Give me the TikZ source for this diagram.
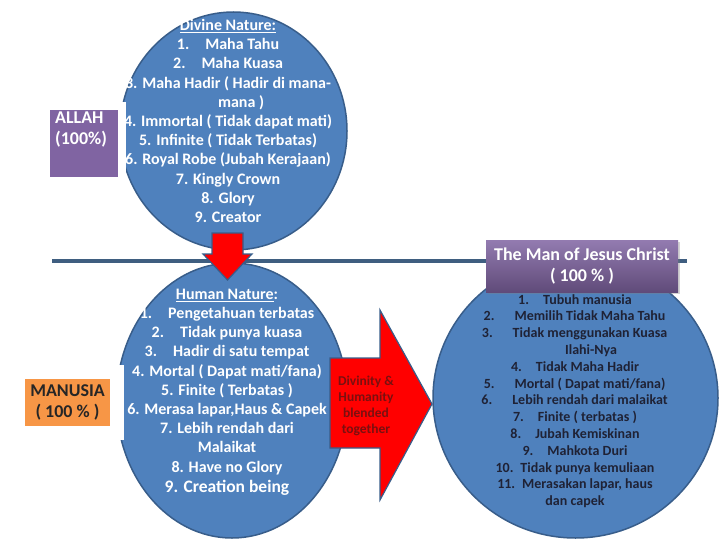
\documentclass[tikz,border=0pt]{standalone}
\usepackage{fontspec}
\setmainfont{Carlito}
\usetikzlibrary{shapes.geometric,positioning,shadows}

\definecolor{circblue}{HTML}{4F81BD}
\definecolor{circline}{HTML}{385D8A}
\definecolor{divline}{HTML}{3F5E80}
\definecolor{boxpurple}{HTML}{8064A2}
\definecolor{boxorange}{HTML}{F79646}
\definecolor{listdark}{HTML}{1F2235}
\definecolor{arrowtext}{HTML}{7A1010}

% number hanging left of a centred line
\newcommand{\hnum}[1]{\hspace*{30pt}\llap{#1\hspace{20pt}}}

\begin{document}
\begin{tikzpicture}[x=1pt,y=-1pt,
    circ/.style={ellipse,fill=circblue,draw=circline,line width=1.5pt,inner sep=0pt},
    list/.style={align=center,text=white,font=\bfseries\fontsize{16}{19.2}\selectfont},
    blockarrow/.style={fill=red,draw=circline,line width=1.2pt,line join=miter},
    divider/.style={draw=divline,line width=4pt}]
    \useasboundingbox (0,0) rectangle (720,540);

    \coordinate (divL) at (52,261);
    \coordinate (divR) at (687,261);
    \draw[divider] (divL) -- (divR);

    \node[circ,minimum width=227pt,minimum height=238pt] (divine) at (233.5,131) {};
    \node[circ,minimum width=231pt,minimum height=275pt] (human) at (232,400.5) {};
    \node[circ,minimum width=285pt,minimum height=280pt] (christ) at (575.5,398) {};

    \node[list] (divinetxt) at (228,121) {\underline{Divine Nature:}\\
        1.\quad Maha Tahu\\
        2.\quad Maha Kuasa\\
        3. Maha Hadir ( Hadir di mana-\\
        \hspace*{26pt}mana )\\
        4. Immortal ( Tidak dapat mati)\\
        5. Infinite ( Tidak Terbatas)\\
        6. Royal Robe (Jubah Kerajaan)\\
        7. Kingly Crown\\
        8. Glory\\
        9. Creator};

    \node[list] (humantxt) at (227,392) {\underline{Human Nature}:\\
        1.\quad Pengetahuan terbatas\\
        2.\quad Tidak punya kuasa\\
        3.\quad Hadir di satu tempat\\
        4. Mortal ( Dapat mati/fana)\\
        5. Finite ( Terbatas )\\
        6. Merasa lapar,Haus \& Capek\\
        7. Lebih rendah dari\\
        Malaikat\\
        8. Have no Glory\\[1pt]
        {\fontsize{17.5}{19.2}\selectfont 9. Creation being}};

    \node[list,text=listdark,font=\bfseries\fontsize{14}{16.8}\selectfont] (christtxt) at (575,401) {1.\quad Tubuh manusia\\
        \hnum{2.}Memilih Tidak Maha Tahu\\
        \hnum{3.}Tidak menggunakan Kuasa\\
        \hspace*{32pt}Ilahi-Nya\\
        4.\quad Tidak Maha Hadir\\
        \hnum{5.}Mortal ( Dapat mati/fana)\\
        \hnum{6.}Lebih rendah dari malaikat\\
        7.\quad Finite ( terbatas )\\
        8.\quad Jubah Kemiskinan\\
        9.\quad Mahkota Duri\\
        10.\enspace Tidak punya kemuliaan\\
        11.\enspace Merasakan lapar, haus\\
        dan capek};

    % block arrows
    \draw[blockarrow] (212,233) -- (243,233) -- (243,254) -- (252,254) -- (227.5,280)
        -- (203,254) -- (212,254) -- cycle;
    \draw[blockarrow] (330,358) -- (380,358) -- (380,310) -- (432,404) -- (380,500)
        -- (380,448) -- (330,448) -- cycle;
    \node[align=center,text=arrowtext,font=\bfseries\fontsize{13.5}{16.2}\selectfont] (blend) at (366,406)
        {Divinity \&\\Humanity\\blended\\together};

    % label boxes
    \node[fill=boxpurple,draw=white,line width=8pt,minimum width=76pt,minimum height=75pt] (allah) at (84,143.5) {};
    \node[align=left,text=white,font=\bfseries\fontsize{18}{21}\selectfont,inner sep=0pt,
        below right=10pt and 13pt of allah.north west] (allahtxt) {ALLAH\\(100\%)};
    \node[fill=boxorange,draw=white,line width=14pt,minimum width=99pt,minimum height=61pt,
        align=center,text=black!85,font=\bfseries\fontsize{18}{21.6}\selectfont] (manusia) at (67.5,402.5) {MANUSIA\\( 100 \% )};
    \node[top color=boxpurple!85!white,bottom color=boxpurple!75!black,minimum width=192pt,minimum height=52pt,
        drop shadow={shadow xshift=1.5pt,shadow yshift=-2pt,opacity=0.35},
        align=center,text=white,font=\bfseries\fontsize{18}{21.6}\selectfont] (christlbl) at (582,266)
        {The Man of Jesus Christ\\( 100 \% )};
\end{tikzpicture}
\end{document}
